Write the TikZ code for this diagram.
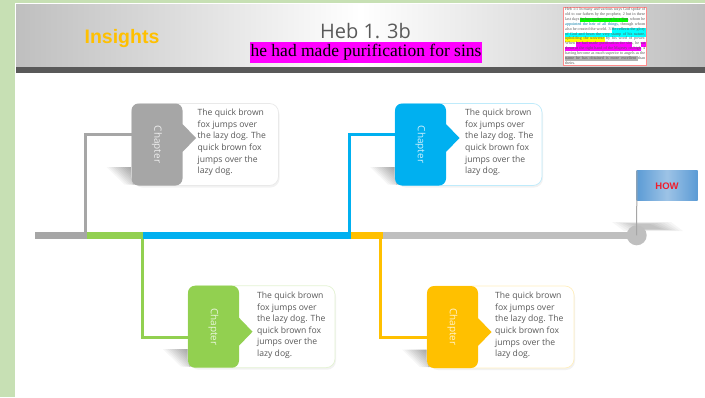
\documentclass[tikz,border=0pt]{standalone}
\usepackage{fontspec}
\setmainfont{Open Sans}
\newfontfamily\arialf{Liberation Sans}
\newfontfamily\timesf{Liberation Serif}
\usetikzlibrary{calc}
\definecolor{pagegreen}{HTML}{C7E0B4}
\definecolor{cgray}{HTML}{A6A6A6}
\definecolor{cgreen}{HTML}{92D050}
\definecolor{cblue}{HTML}{00B0F0}
\definecolor{cyellow}{HTML}{FFC000}
\definecolor{cline}{HTML}{BFBFBF}
\definecolor{bodytext}{HTML}{595959}
\definecolor{flagedge}{HTML}{5B9BD5}
\definecolor{flagmid}{HTML}{9DC3E6}
\definecolor{hlmagenta}{HTML}{FF00FF}
\definecolor{hlcyan}{HTML}{00FFFF}
\definecolor{hlyellow}{HTML}{FFFF00}
\definecolor{hlgreen}{HTML}{00FF00}
\definecolor{howred}{HTML}{F01E2D}
\tikzset{
  x=1pt,y=-1pt,
  conn/.style={line width=3pt},
  seg/.style={line width=6.5pt},
  softshade/.style={fill=black,opacity=.035},
  bodytxt/.style={anchor=north west,inner sep=0pt,align=left,text=bodytext,font=\fontsize{8.6}{11.6}\selectfont},
  chap/.style={rotate=-90,text=white,opacity=.8,inner sep=0pt,font=\fontsize{10}{12}\selectfont},
  thumbtxt/.style={anchor=north west,inner sep=0pt,align=left,text=black!65,font=\fontsize{4.1}{4.83}\timesf},
}
\newcommand{\cardat}[7]{% name, x, y, colour, pointer tip y, text x offset, text y offset
  \begin{scope}[shift={(#2,#3)}]
    \foreach \i in {0,...,11}{
      \fill[softshade] (-25+2.3*\i,63.5) -- (1,63.5) -- (1,81) -- (-7+2.3*\i,81) -- cycle;
    }
    \fill[black,opacity=.05,rounded corners=9pt] (2,2) rectangle (148,84);
    \filldraw[draw=#4!25,fill=white,line width=.7pt,rounded corners=9pt] (0,0) rectangle (147,82);
    \fill[#4,rounded corners=7pt] (0,0) -- (51,0) [sharp corners] -- (51,#5-14) -- (64.5,#5) -- (51,#5+14) [rounded corners=7pt] -- (51,82) -- (0,82) -- cycle;
    \node[chap] (#1-label) at (25.5,41) {Chapter};
    \node[bodytxt] (#1-text) at (#6,#7) {The quick brown\\fox jumps over\\the lazy dog. The\\quick brown fox\\jumps over the\\lazy dog.};
  \end{scope}
}
\begin{document}
\begin{tikzpicture}
\useasboundingbox (0,0) rectangle (705,397);
\fill[pagegreen] (0,0) rectangle (705,397);
\fill[white] (15,3) rectangle (705,397);
% header
\fill[left color=cline,right color=cline,middle color=white] (16,4) rectangle (705,66);
\fill[bodytext] (16,66.5) rectangle (705,73);
\node[inner sep=0pt,text=cyellow,font=\fontsize{19.5}{22}\arialf\bfseries] (insights) at (122,38) {Insights};
\node[inner sep=0pt,text=bodytext,font=\fontsize{20}{24}\selectfont] (title) at (365.5,31.5) {Heb 1. 3b};
\node[fill=hlmagenta,inner xsep=1pt,inner ysep=0pt,minimum height=21pt,text=black,font=\fontsize{17.5}{20}\timesf] (subtitle) at (366,52.5) {he had made purification for sins};
% thumbnail
\filldraw[draw=red!45,fill=white,line width=1pt] (563.5,7) rectangle (646,65.5);
\fill[hlgreen] (580,17.5) rectangle (628,22);
\fill[hlcyan] (612,27.5) rectangle (646,32.5);
\fill[hlcyan] (565,32.5) rectangle (646,37);
\fill[hlyellow] (565,37.3) rectangle (605,41.7);
\fill[hlmagenta] (576,42) rectangle (632,46.5);
\fill[hlmagenta] (641,42) rectangle (645.5,46.5);
\fill[hlmagenta] (565,46.5) rectangle (641,51);
\fill[black!30] (565,56) rectangle (638,60.5);
\node[thumbtxt] (thumb) at (565,7.8) {%
\makebox[80pt][s]{Heb 1:1 In many and various ways God spoke of}\\
\makebox[80pt][s]{old to our fathers by the prophets; 2 but in these}\\
\makebox[80pt][s]{last days he has spoken to us by a Son, whom he}\\
\makebox[80pt][s]{\textcolor{cblue!70!black}{appointed the heir of all things,} through whom}\\
\makebox[80pt][s]{also he created the world. 3 He reflects the glory}\\
\makebox[80pt][s]{of God and bears the very stamp of his nature,}\\
\makebox[80pt][s]{upholding the universe by his word of power.}\\
\makebox[80pt][s]{When he had made purification for sins, he sat}\\
\makebox[80pt][s]{down at the right hand of the Majesty on high, 4}\\
\makebox[80pt][s]{having become as much superior to angels as the}\\
\makebox[80pt][s]{name he has obtained is more excellent than}\\
theirs.};
% timeline anchors
\coordinate (t0) at (35,235.7);
\coordinate (t1) at (87,235.7);
\coordinate (t2) at (143,235.7);
\coordinate (t3) at (351,235.7);
\coordinate (t4) at (383,235.7);
\coordinate (t5) at (636.7,235.7);
% flag shadow
\foreach \i in {0,...,6}{
  \fill[softshade] (612+3.5*\i,222+.3*\i) -- (671-3.5*\i,222+.3*\i) -- (683-3.5*\i,231-.3*\i) -- (624+3.5*\i,231-.3*\i) -- cycle;
}
% cards
\cardat{one}{131.5}{103.5}{cgray}{34.5}{66}{5.5}
\cardat{two}{188}{285.7}{cgreen}{46}{69}{6}
\cardat{three}{395}{103.5}{cblue}{34.5}{70}{5.5}
\cardat{four}{427}{286}{cyellow}{46}{68}{6}
% connectors
\coordinate (in1) at (131.5,134.3);
\coordinate (in2) at (188,337.7);
\coordinate (in3) at (395,134.3);
\coordinate (in4) at (427,337.7);
\coordinate (v1) at (85.3,235.7);
\coordinate (v2) at (142,235.7);
\coordinate (v3) at (349.5,235.7);
\coordinate (v4) at (380.7,235.7);
\draw[conn,cgray] (v1) -- (v1 |- in1) -- (in1);
\draw[conn,cgreen] (v2) -- (v2 |- in2) -- (in2);
\draw[conn,cblue] (v3) -- (v3 |- in3) -- (in3);
\draw[conn,cyellow] (v4) -- (v4 |- in4) -- (in4);
% timeline
\draw[seg,cgray] (t0) -- (t1);
\draw[seg,cgreen] (t1) -- (t2);
\draw[seg,cblue] (t2) -- (t3);
\draw[seg,cyellow] (t3) -- (t4);
\draw[seg,cline] (t4) -- (t5);
\node[circle,fill=cline,minimum size=20pt,inner sep=0pt] (endpt) at (636.7,235.3) {};
% flag
\node[anchor=north west,inner sep=0pt,minimum width=61pt,minimum height=30pt,left color=flagedge,right color=flagedge,middle color=flagmid,
  text=howred,font=\fontsize{9.5}{11}\arialf\bfseries] (flag) at (636.3,170.7) {HOW};
\draw[cgray,line width=1pt] (flag.north west) ++(.5,0) -- (endpt.center);
\end{tikzpicture}
\end{document}
